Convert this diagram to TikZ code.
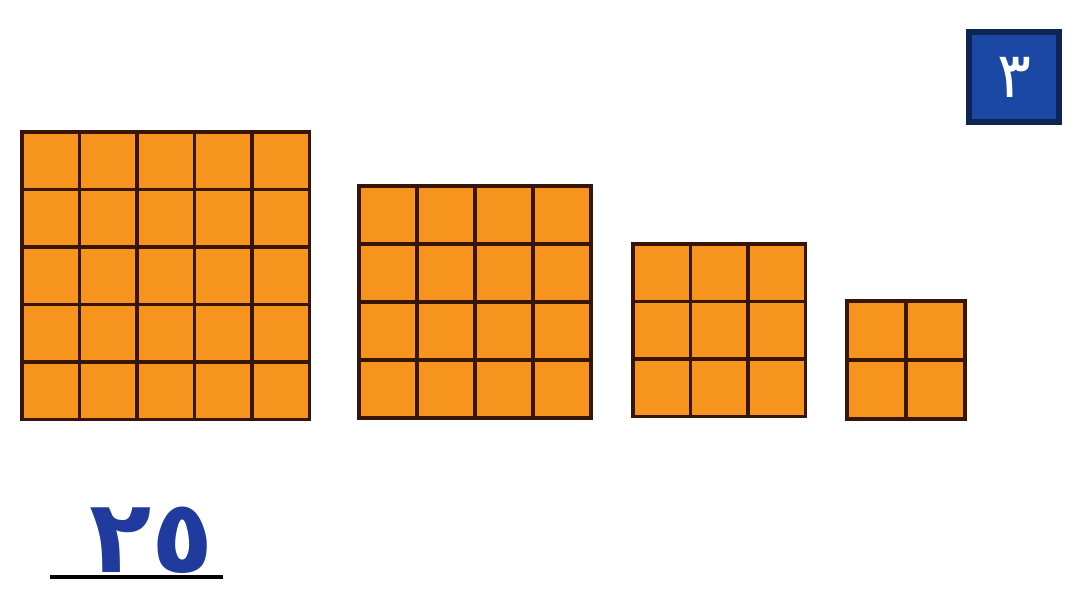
\documentclass[tikz,border=0pt]{standalone}
\usepackage{fontspec}
\newfontfamily\arabicfont[Script=Arabic]{DejaVu Sans}
\definecolor{cellorange}{RGB}{247,148,29}
\definecolor{gridbrown}{RGB}{55,22,8}
\definecolor{boxblue}{RGB}{28,72,165}
\definecolor{numblue}{RGB}{33,58,158}
\tikzset{cellline/.style={draw=gridbrown,line width=1pt,line cap=rect}}
\begin{document}
\begin{tikzpicture}[x=.01cm,y=-.01cm]
\useasboundingbox(0,0)rectangle(1075,592);
% squares of 25, 16, 9 and 4 cells
\foreach \n/\x/\y/\c in {5/22/132/57.5,4/359/186/58,3/633/244/57.5,2/847/301/59}{
\begin{scope}[shift={(\x,\y)},scale=\c]\fill[cellorange](0,0)rectangle(\n,\n);\foreach \k in {0,...,\n}{\draw[cellline](\k,0)--(\k,\n);\draw[cellline](0,\k)--(\n,\k);}\end{scope}}
% exercise number
\node[fill=boxblue,draw=boxblue!50!black,line width=1.5pt,minimum size=.9cm,inner sep=0pt,text=white,font=\arabicfont\fontsize{18}{18}\selectfont](qnum)at(1014,77){٣};
% answer
\node[anchor=base,inner sep=0pt,text depth=0pt,text=numblue,font=\arabicfont\bfseries\fontsize{29}{29}\selectfont](answer)at(152,573){٢٥};
\coordinate(lineL)at(50,577);\coordinate(lineR)at(223,577);
\draw[line width=1.2pt](lineL)--(lineR);
\end{tikzpicture}
\end{document}
